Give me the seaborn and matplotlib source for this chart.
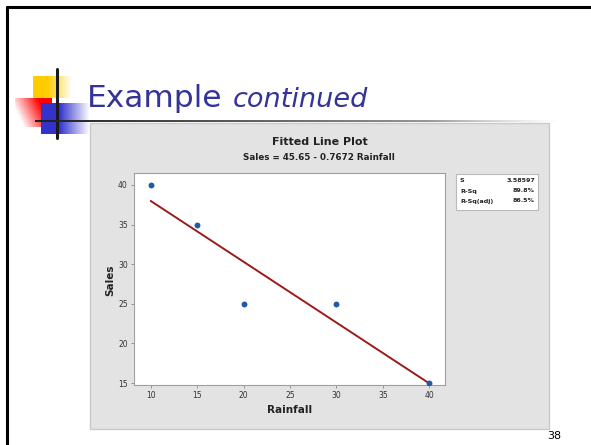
import numpy as np
import pandas as pd
import seaborn as sns
import matplotlib.pyplot as plt
from matplotlib.patches import Rectangle

rainfall = [10, 15, 20, 30, 40]
sales = [40, 35, 25, 25, 15]
x_ticks = [10, 15, 20, 25, 30, 35, 40]
y_ticks = [15, 20, 25, 30, 35, 40]
stat_names = ["S", "R-Sq", "R-Sq(adj)"]
stat_values = ["3.58597", "89.8%", "86.5%"]

data = pd.DataFrame({"Rainfall": rainfall, "Sales": sales})

sns.set_style("white")
plt.rcParams['font.family'] = ['DejaVu Sans']

W, H = 591, 445
fig = plt.figure(figsize=(W / 100, H / 100), dpi=100)
fig.patch.set_facecolor("white")

# slide background layer, in pixel coordinates
bg = fig.add_axes([0, 0, 1, 1], zorder=0)
bg.set_xlim(0, W)
bg.set_ylim(H, 0)
bg.axis("off")

# slide border (left + top)
bg.plot([7, 7], [6, H], color="black", lw=2.2, solid_capstyle="butt")
bg.plot([6, W], [6.5, 6.5], color="black", lw=2.2, solid_capstyle="butt")


def grad_square(x0, y0, x1, y1, rgb, direction):
    n = 60
    xs = np.linspace(0, 1, n)
    ys = np.linspace(0, 1, n)
    X, Y = np.meshgrid(xs, ys)
    if direction == "left":
        a = np.clip(0.2 + 1.3 * X - 0.5 * Y, 0, 1)
    else:
        a = np.clip(1.6 - 1.6 * X, 0, 1)
    img = np.zeros((n, n, 4))
    img[..., 0], img[..., 1], img[..., 2] = rgb
    img[..., 3] = a
    bg.imshow(img, extent=(x0, x1, y1, y0), aspect="auto", interpolation="bilinear", zorder=2)


grad_square(33, 76, 72, 98, (1.0, 0.8, 0.0), "right")
grad_square(15, 98, 52, 127, (1.0, 0.0, 0.0), "left")
grad_square(41, 103, 90, 134, (0.2, 0.2, 0.8), "right")
bg.plot([57, 57], [69, 138], color="#1a1a1a", lw=2.2, zorder=3)

# separator line under the slide title, fading to the right
strip = np.zeros((1, 200, 4))
strip[..., 0:3] = np.linspace(0.12, 0.75, 200)[None, :, None]
strip[..., 3] = np.clip(np.linspace(4.0, 0.0, 200), 0, 1)[None, :]
bg.imshow(strip, extent=(35, 560, 122.5, 120.5), aspect="auto", interpolation="bilinear", zorder=3)
bg.set_xlim(0, W)
bg.set_ylim(H, 0)

bg.text(87, 107, "Example", fontsize=22.5, color="#333399", ha="left", va="baseline", zorder=4)
bg.text(233, 107, "continued", fontsize=19.5, color="#333399", style="italic",
        ha="left", va="baseline", zorder=4)

# minitab grey panel
bg.add_patch(Rectangle((90, 123), 459, 306, facecolor="#E3E3E3", edgecolor="#C9C9C9", lw=1, zorder=1))

bg.text(320, 142, "Fitted Line Plot", fontsize=8, fontweight="bold", color="#222222",
        ha="center", va="center", zorder=4)
bg.text(319, 158, "Sales = 45.65 - 0.7672 Rainfall", fontsize=6.3, fontweight="bold",
        color="#222222", ha="center", va="center", zorder=4)
bg.text(290, 410, "Rainfall", fontsize=7.5, fontweight="bold", color="#222222",
        ha="center", va="center", zorder=4)
bg.text(110, 280, "Sales", fontsize=7.5, fontweight="bold", color="#222222",
        ha="center", va="center", rotation=90, zorder=4)

# stats box
bg.add_patch(Rectangle((456, 174), 82, 36, facecolor="white", edgecolor="#BBBBBB", lw=0.8, zorder=3))
for i, (nm, val) in enumerate(zip(stat_names, stat_values)):
    yy = 181 + i * 10
    bg.text(460, yy, nm, fontsize=4.6, fontweight="bold", color="#222222", va="center", zorder=4)
    bg.text(535, yy, val, fontsize=4.6, fontweight="bold", color="#222222", va="center",
            ha="right", zorder=4)

bg.text(554, 436, "38", fontsize=8, color="black", ha="center", va="center", zorder=4)

# the fitted line plot itself
ax = fig.add_axes([134 / W, 1 - 385 / H, (445 - 134) / W, (385 - 173) / H], zorder=2)
sns.regplot(data=data, x="Rainfall", y="Sales", ci=None, ax=ax,
            scatter_kws=dict(color="#1F5BA8", s=18, zorder=3, linewidths=0, alpha=1),
            line_kws=dict(color="#9B1B1B", lw=1.4, zorder=2))
ax.set_facecolor("white")
ax.set_xlim(8.2, 41.7)
ax.set_ylim(14.75, 41.5)
ax.set_xticks(x_ticks)
ax.set_yticks(y_ticks)
ax.set_xlabel("")
ax.set_ylabel("")
ax.tick_params(axis="both", labelsize=5.5, length=2.5, width=0.6, color="#888888",
               labelcolor="#333333", pad=2, bottom=True, left=True)
for sp in ax.spines.values():
    sp.set_color("#A0A0A0")
    sp.set_linewidth(0.8)

fig.savefig("out.png", dpi=100)
